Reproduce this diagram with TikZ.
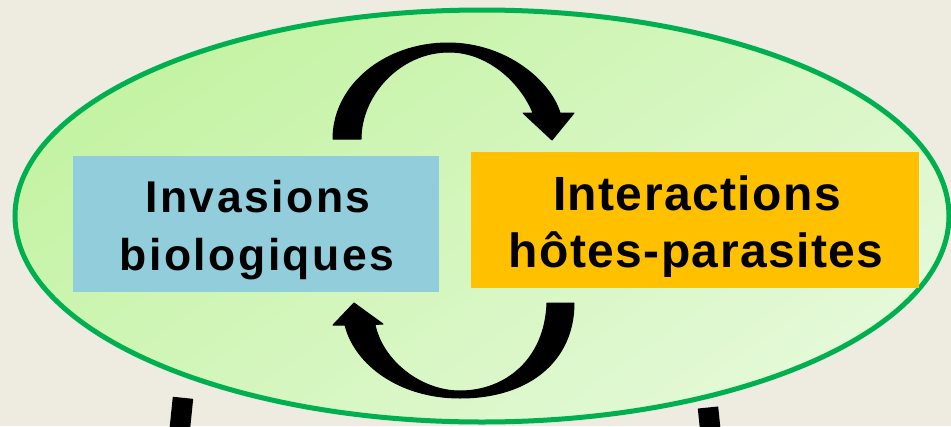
\documentclass[tikz,border=0pt]{standalone}
\usepackage{fontspec}
\usetikzlibrary{shapes.geometric}
% bold sans labels with a little tracking
\newfontfamily\leftfont{Liberation Sans}[LetterSpace=5.5]
\newfontfamily\rightfont{Liberation Sans}[LetterSpace=3]

\definecolor{bgbeige}{RGB}{238,235,225}
\definecolor{rimgreen}{RGB}{0,176,80}
\definecolor{leafA}{RGB}{196,243,163}
\definecolor{leafB}{RGB}{228,249,216}
\definecolor{boxblue}{RGB}{146,205,220}
\definecolor{boxorange}{RGB}{255,192,0}

\begin{document}
\begin{tikzpicture}[x=1pt,y=-1pt,
  panel/.style={inner sep=0pt, outer sep=0pt, minimum height=136pt},
  lblA/.style={anchor=base, inner sep=0pt, font=\leftfont\bfseries\fontsize{44.5}{50}\selectfont},
  lblB/.style={anchor=base, inner sep=0pt, font=\rightfont\bfseries\fontsize{48}{54}\selectfont},
  curvearrow/.style={fill=black, draw=black, line width=1pt, line join=round},
  leg/.style={draw=black, line width=20.5pt, line cap=butt}]

% canvas
\useasboundingbox (0,0) rectangle (951,426);
\fill[bgbeige] (0,0) rectangle (951,426);

\begin{scope}
\clip (0,0) rectangle (951,426);

% the two supports below the cell
\coordinate (legLtop) at (183,397.8);
\coordinate (legLend) at (179.5,432);
\coordinate (legRtop) at (708,407.5);
\coordinate (legRend) at (710.5,432);
\draw[leg] (legLtop) -- (legLend);
\draw[leg] (legRtop) -- (legRend);

% green cell
\node[ellipse, draw=rimgreen, line width=5pt, inner sep=0pt,
      minimum width=934pt, minimum height=412pt,
      top color=leafA, bottom color=leafB, shading angle=35] (cell) at (482,216) {};

% the two panels
\node[panel, fill=boxblue, minimum width=366pt] (inv) at (256,224) {};
\node[panel, fill=boxorange, minimum width=448pt] (hp) at (695,220) {};

\node[lblA] (invA) at (258,212) {Invasions};
\node[lblA] (invB) at (257,270) {biologiques};
\node[lblB] (hpA) at (697,210) {Interactions};
\node[lblB] (hpB) at (696,267) {hôtes-parasites};

% curved arrow over the top: invasions -> host-parasite
\draw[curvearrow] (333,139) -- (361,139)
  .. controls (361,95) and (400,52) .. (449,52)
  .. controls (490,52) and (522,85) .. (533,113)
  -- (523,113) -- (552,140) -- (574,113) -- (560,113)
  .. controls (550,80) and (505,43) .. (448,43)
  .. controls (385,43) and (333,85) .. (333,139) -- cycle;

% curved arrow underneath: host-parasite -> invasions
\draw[curvearrow] (547,303) -- (574,303)
  .. controls (574,360) and (530,398) .. (460,398)
  .. controls (400,398) and (355,365) .. (345,325)
  -- (333,325) -- (354,303) -- (383,324) -- (375,324.5)
  .. controls (382,360) and (420,391) .. (460,391)
  .. controls (505,391) and (545,360) .. (547,303) -- cycle;
\end{scope}
\end{tikzpicture}
\end{document}
